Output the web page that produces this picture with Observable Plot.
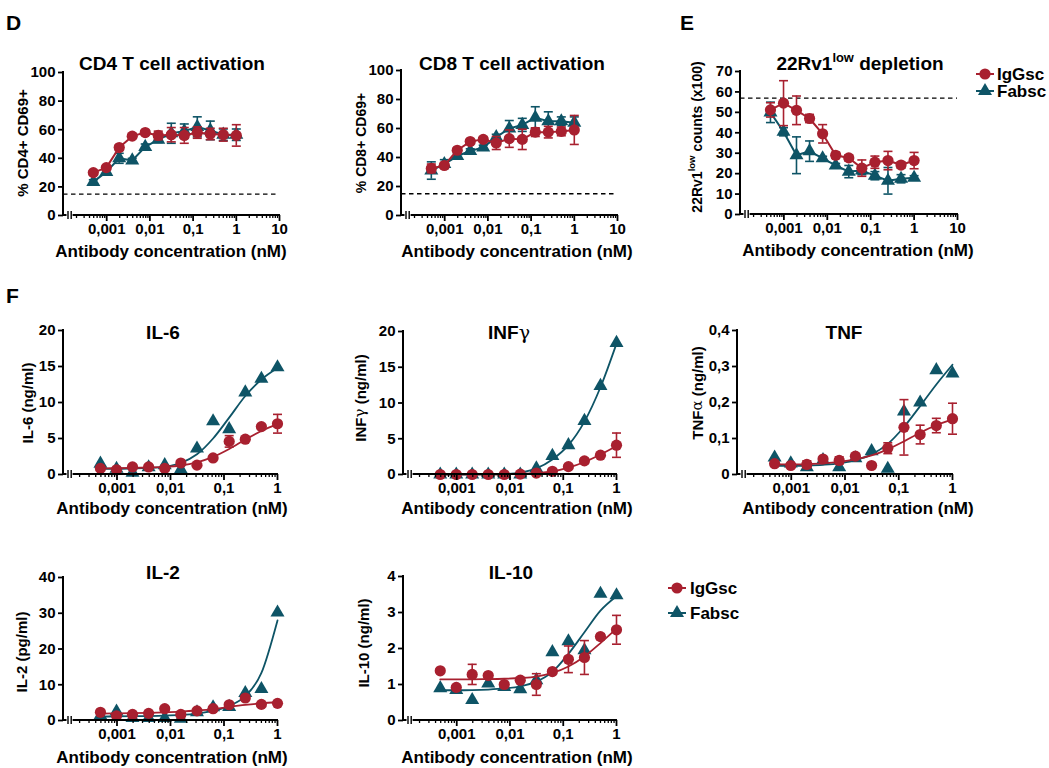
<!DOCTYPE html>
<html><head><meta charset="utf-8">
<script src="https://cdn.jsdelivr.net/npm/d3@7"></script>
<script src="https://cdn.jsdelivr.net/npm/@observablehq/plot@0.6"></script>
<style>
body{margin:0;background:#fff;}
#fig{position:relative;width:1049px;height:768px;overflow:hidden;background:#fff;}
#fig > div{position:absolute;}
</style></head><body><div id="fig"></div>
<script>
// ---------- data ----------
const conc = [0.00049, 0.00098, 0.00195, 0.0039, 0.0078, 0.0156, 0.03125, 0.0625, 0.125, 0.25, 0.5, 1];
const seriesNames = ["IgGsc", "Fabsc"];

const xMajorTop = [0.001, 0.01, 0.1, 1, 10];
const xMajorTopLabels = ["0,001", "0,01", "0,1", "1", "10"];
const xMajorF = [0.001, 0.01, 0.1, 1];
const xMajorFLabels = ["0,001", "0,01", "0,1", "1"];

// D: CD4
const cd4Igg    = [30, 33.5, 47.5, 55.5, 58, 56, 56.5, 56, 58, 57, 56.5, 56];
const cd4IggErr = [1.5, 1.5, 2, 1.5, 1.5, 3, 5, 5.5, 4, 4, 4.5, 7.5];
const cd4Fab    = [23.5, 30.5, 40, 38.5, 48, 53, 57.5, 59, 62, 59.5, 56.5, 56.5];
const cd4FabErr = [1.5, 2, 3.5, 1.5, 2, 2, 7, 5, 7, 6.5, 4, 4];
// D: CD8
const cd8Igg    = [32.5, 34.5, 45, 51, 52.5, 50, 53, 52.5, 57.5, 57.5, 58, 59];
const cd8IggErr = [3, 2, 1.5, 1.5, 1.5, 4.5, 6, 7, 3, 4, 3, 10];
const cd8Fab    = [31, 35.5, 41, 44.5, 47, 54, 60, 62.5, 67.5, 65, 65, 64];
const cd8FabErr = [6, 3, 2, 1.5, 1.5, 2, 5.5, 4.5, 7.5, 6.5, 3, 4];
// E: 22Rv1 low depletion
const depIgg    = [51.2, 54.5, 51, 47, 39.5, 29, 27.7, 22.7, 25.6, 26.4, 24.2, 26.4];
const depIggErr = [3.5, 11, 7, 2, 4.5, 1.5, 1.5, 4, 3, 4.5, 1.5, 4];
const depFab    = [50, 40.5, 29, 31, 27.5, 24, 21, 21.5, 19, 16.5, 17.5, 18];
const depFabErr = [5, 2, 9, 5, 1, 1, 3, 2, 2, 6.5, 2, 1];
// F: IL-6
const il6Igg    = [0.85, 0.65, 1.05, 1.05, 0.85, 1.6, 1.3, 2.3, 4.6, 4.9, 6.65, 7.05];
const il6IggErr = [0, 0, 0, 0, 0, 0, 0, 0, 0.8, 0, 0.3, 1.3];
const il6Fab    = [1.5, 0.8, 0.25, 1.0, 1.3, 0.7, 3.6, 7.4, 6.3, 11.4, 13.3, 14.9];
const il6IggFit = [0.85, 0.88, 0.92, 0.97, 1.05, 1.25, 1.7, 2.45, 3.55, 4.85, 6.05, 7.0];
const il6FabFit = [0.8, 0.8, 0.85, 0.92, 1.1, 1.6, 2.8, 5.0, 7.9, 10.9, 13.2, 14.8];
// F: INF gamma
const ifnIgg    = [0, 0, 0, 0, 0, 0.05, 0.2, 0.45, 1.1, 1.9, 2.7, 4.1];
const ifnIggErr = [0, 0, 0, 0, 0, 0, 0, 0, 0, 0.35, 0, 1.7];
const ifnFab    = [0, 0, 0, 0, 0, 0, 0.85, 2.6, 4.1, 7.5, 12.4, 18.4];
const ifnIggFit = [0.02, 0.02, 0.02, 0.03, 0.04, 0.08, 0.18, 0.42, 0.95, 1.75, 2.8, 4.0];
const ifnFabFit = [0, 0, 0, 0.01, 0.05, 0.25, 0.85, 2.1, 4.1, 7.4, 12.2, 18.3];
// F: TNF
const tnfIgg    = [0.03, 0.025, 0.028, 0.043, 0.039, 0.051, 0.025, 0.073, 0.131, 0.111, 0.136, 0.155];
const tnfIggErr = [0, 0, 0.01, 0, 0.01, 0.005, 0, 0.015, 0.077, 0.026, 0.02, 0.043];
const tnfFab    = [0.047, 0.031, 0.02, 0.04, 0.02, 0.045, 0.065, 0.016, 0.175, 0.2, 0.29, 0.281];
const tnfIggFit = [0.028, 0.028, 0.029, 0.031, 0.035, 0.042, 0.053, 0.07, 0.092, 0.116, 0.137, 0.153];
const tnfFabFit = [0.024, 0.024, 0.025, 0.027, 0.031, 0.04, 0.056, 0.085, 0.132, 0.19, 0.25, 0.305];
// IL-2
const il2Igg    = [2.3, 1.3, 1.7, 2.0, 3.3, 1.7, 2.7, 3.3, 4.4, 6.3, 4.5, 4.8];
const il2Fab    = [1.4, 2.5, 0.7, 0.7, 0.7, 0.5, 2.3, 3.7, 3.8, 7.7, 8.8, 30.2];
const il2IggFit = [1.9, 2.0, 2.05, 2.15, 2.3, 2.5, 2.8, 3.2, 3.8, 4.35, 4.8, 5.1];
const il2FabFit = [1.1, 1.15, 1.2, 1.25, 1.35, 1.55, 1.95, 2.7, 4.1, 6.8, 13.3, 28];
// IL-10
const il10Igg    = [1.38, 0.92, 1.28, 1.25, 1.0, 1.12, 1.0, 1.36, 1.7, 1.75, 2.33, 2.52];
const il10IggErr = [0, 0, 0.28, 0, 0, 0, 0.3, 0, 0.37, 0.47, 0.08, 0.4];
const il10Fab    = [0.9, 0.85, 0.57, 1.03, 0.93, 0.87, 1.12, 1.9, 2.2, 1.95, 3.52, 3.48];
const il10IggFit = [1.14, 1.14, 1.145, 1.15, 1.16, 1.18, 1.22, 1.32, 1.5, 1.78, 2.15, 2.55];
const il10FabFit = [0.84, 0.84, 0.845, 0.86, 0.89, 0.95, 1.08, 1.35, 1.85, 2.45, 3.05, 3.45];

// ---------- style ----------
const FONT = '"Liberation Sans", Arial, Helvetica, sans-serif';
const RED = "#a8202f", TEAL = "#0e5466";
const capSymbol = {draw(ctx, size) { const r = Math.sqrt(size / Math.PI); ctx.moveTo(-r, 0); ctx.lineTo(r, 0); }};
function minorTicks(maxExp) {
  const t = [];
  for (let e = -4; e < maxExp; e++) for (let k = 2; k <= 9; k++) t.push(+(k * Math.pow(10, e)).toPrecision(3));
  return t;
}
const fig = document.getElementById("fig");

function makePanel(cfg) {
  const mL = 70, mR = 14, mT = 14, mB = 34;
  const w = cfg.right - cfg.left, h = cfg.bottom - cfg.top;
  const top = cfg.xMax === 10;
  const xMaj = top ? xMajorTop : xMajorF;
  const xMajL = top ? xMajorTopLabels : xMajorFLabels;
  const marks = [];
  if (cfg.dashed != null) marks.push(Plot.ruleY([cfg.dashed], {stroke: "#000", strokeWidth: 1.3, strokeDasharray: "4.5,3.5"}));
  for (const s of cfg.series) {
    const rows = conc.map((c, i) => ({c, v: s.v[i], e: s.e ? s.e[i] : 0}));
    if (s.fit) marks.push(Plot.line(conc.map((c, i) => ({c, v: s.fit[i]})), {x: "c", y: "v", stroke: s.color, strokeWidth: 1.8, curve: "monotone-x"}));
    else marks.push(Plot.line(rows, {x: "c", y: "v", stroke: s.color, strokeWidth: 2}));
    const er = rows.filter(d => d.e > 0);
    marks.push(Plot.ruleX(er, {x: "c", y1: d => d.v - d.e, y2: d => d.v + d.e, stroke: s.color, strokeWidth: 1.6}));
    marks.push(Plot.dot(er, {x: "c", y: d => d.v + d.e, symbol: capSymbol, r: 4.5, stroke: s.color, strokeWidth: 1.6, fill: "none"}));
    marks.push(Plot.dot(er, {x: "c", y: d => d.v - d.e, symbol: capSymbol, r: 4.5, stroke: s.color, strokeWidth: 1.6, fill: "none"}));
    marks.push(Plot.dot(rows, {x: "c", y: "v", symbol: s.symbol, r: s.r, fill: s.color, stroke: "none"}));
  }
  marks.push(Plot.axisY({ticks: cfg.yTicks, tickFormat: d => cfg.yLabels[cfg.yTicks.indexOf(d)], tickSize: 5, tickPadding: 3, label: null, strokeWidth: 1.8}));
  marks.push(Plot.axisX({ticks: xMaj, tickFormat: d => xMajL[xMaj.indexOf(d)], tickSize: 6, tickPadding: 2, label: null, strokeWidth: 1.8}));
  marks.push(Plot.axisX({ticks: minorTicks(top ? 1 : 0), tickSize: 3, fill: "none", label: null, strokeWidth: 1.3}));
  const svg = Plot.plot({
    width: w + mL + mR, height: h + mT + mB,
    marginLeft: mL, marginRight: mR, marginTop: mT, marginBottom: mB,
    x: {type: "log", domain: [1e-4, cfg.xMax]},
    y: {domain: [0, cfg.yMax]},
    style: {background: "transparent", overflow: "visible", fontSize: "15px", fontWeight: "bold", fontFamily: FONT, color: "#000"},
    marks
  });
  const g = d3.select(svg).append("g").attr("stroke", "#000").attr("fill", "none");
  const y0 = mT + h;
  g.append("line").attr("x1", mL).attr("x2", mL).attr("y1", mT - 1).attr("y2", y0 + 1).attr("stroke-width", 2);
  g.append("line").attr("x1", mL).attr("x2", mL + 3.5).attr("y1", y0).attr("y2", y0).attr("stroke-width", 2);
  [mL + 5, mL + 8.2].forEach(x => g.append("line").attr("x1", x).attr("x2", x).attr("y1", y0 - 4).attr("y2", y0 + 4).attr("stroke-width", 1.4));
  g.append("line").attr("x1", mL + 9.6).attr("x2", mL + w + 1).attr("y1", y0).attr("y2", y0).attr("stroke-width", 2);
  const div = document.createElement("div");
  div.style.left = (cfg.left - mL) + "px";
  div.style.top = (cfg.top - mT) + "px";
  div.appendChild(svg);
  fig.appendChild(div);
}

const S = (v, e, color, symbol, fit) => ({v, e, color, symbol, r: symbol === "circle" ? 5.6 : 5.2, fit});
const pct = [0, 20, 40, 60, 80, 100];
const pctL = ["0", "20", "40", "60", "80", "100"];

makePanel({left: 63, right: 279, top: 72, bottom: 215, xMax: 10, yMax: 100, yTicks: pct, yLabels: pctL, dashed: 15,
  series: [S(cd4Fab, cd4FabErr, TEAL, "triangle"), S(cd4Igg, cd4IggErr, RED, "circle")]});
makePanel({left: 401, right: 617, top: 70, bottom: 215, xMax: 10, yMax: 100, yTicks: pct, yLabels: pctL, dashed: 15,
  series: [S(cd8Fab, cd8FabErr, TEAL, "triangle"), S(cd8Igg, cd8IggErr, RED, "circle")]});
makePanel({left: 740, right: 957, top: 71, bottom: 214, xMax: 10, yMax: 70,
  yTicks: [0, 10, 20, 30, 40, 50, 60, 70], yLabels: ["0", "10", "20", "30", "40", "50", "60", "70"], dashed: 57,
  series: [S(depFab, depFabErr, TEAL, "triangle"), S(depIgg, depIggErr, RED, "circle")]});
makePanel({left: 63, right: 277, top: 330, bottom: 474, xMax: 1, yMax: 20,
  yTicks: [0, 5, 10, 15, 20], yLabels: ["0", "5", "10", "15", "20"],
  series: [S(il6Fab, null, TEAL, "triangle", il6FabFit), S(il6Igg, il6IggErr, RED, "circle", il6IggFit)]});
makePanel({left: 403, right: 616, top: 331, bottom: 474, xMax: 1, yMax: 20,
  yTicks: [0, 5, 10, 15, 20], yLabels: ["0", "5", "10", "15", "20"],
  series: [S(ifnFab, null, TEAL, "triangle", ifnFabFit), S(ifnIgg, ifnIggErr, RED, "circle", ifnIggFit)]});
makePanel({left: 737, right: 952, top: 330, bottom: 474, xMax: 1, yMax: 0.4,
  yTicks: [0, 0.1, 0.2, 0.3, 0.4], yLabels: ["0", "0,1", "0,2", "0,3", "0,4"],
  series: [S(tnfFab, null, TEAL, "triangle", tnfFabFit), S(tnfIgg, tnfIggErr, RED, "circle", tnfIggFit)]});
makePanel({left: 63, right: 277, top: 577, bottom: 720, xMax: 1, yMax: 40,
  yTicks: [0, 10, 20, 30, 40], yLabels: ["0", "10", "20", "30", "40"],
  series: [S(il2Fab, null, TEAL, "triangle", il2FabFit), S(il2Igg, null, RED, "circle", il2IggFit)]});
makePanel({left: 403, right: 616, top: 576, bottom: 720, xMax: 1, yMax: 4,
  yTicks: [0, 1, 2, 3, 4], yLabels: ["0", "1", "2", "3", "4"],
  series: [S(il10Fab, null, TEAL, "triangle", il10FabFit), S(il10Igg, il10IggErr, RED, "circle", il10IggFit)]});

// ---------- overlay text ----------
const ov = d3.create("svg").attr("width", 1049).attr("height", 768)
  .style("position", "absolute").style("left", "0px").style("top", "0px").style("pointer-events", "none")
  .attr("font-family", FONT).attr("font-weight", "bold").attr("fill", "#000");
function txt(x, y, parts, {size = 17, anchor = "middle", rotate = false, baseline = "auto"} = {}) {
  const t = ov.append("text").attr("font-size", size).attr("text-anchor", anchor).attr("dominant-baseline", baseline);
  if (rotate) t.attr("transform", `translate(${x},${y}) rotate(-90)`); else t.attr("x", x).attr("y", y);
  if (typeof parts === "string") parts = [{t: parts}];
  let shift = 0;
  for (const p of parts) {
    const sp = t.append("tspan").text(p.t);
    if (p.sup) { sp.attr("font-size", size * 0.68).attr("dy", -size * 0.4); shift = size * 0.4; }
    else if (shift) { sp.attr("dy", shift); shift = 0; }
    if (p.greek) sp.attr("font-weight", "normal").attr("font-family", '"DejaVu Serif", serif');
  }
  return t;
}
// panel letters
txt(6, 30, "D", {size: 21, anchor: "start"});
txt(680, 30, "E", {size: 21, anchor: "start"});
txt(6, 303, "F", {size: 21, anchor: "start"});
// titles
txt(172, 70, "CD4 T cell activation", {size: 19});
txt(512, 70, "CD8 T cell activation", {size: 19});
txt(860, 70, [{t: "22Rv1"}, {t: "low", sup: true}, {t: " depletion"}], {size: 19});
txt(163, 339, "IL-6", {size: 19});
txt(509, 339, [{t: "INF"}, {t: "γ", greek: true}], {size: 19});
txt(844, 339, "TNF", {size: 19});
txt(163, 579, "IL-2", {size: 19});
txt(511, 579, "IL-10", {size: 19});
// x labels
const xl = "Antibody concentration (nM)";
[[171, 257], [517, 257], [858, 256], [172, 514], [517, 514], [858, 514], [172, 763], [517, 763]]
  .forEach(([x, y]) => txt(x, y, xl, {size: 17}));
// y labels
txt(22, 143, "% CD4+ CD69+", {size: 15, rotate: true, baseline: "central"});
txt(361, 143, "% CD8+ CD69+", {size: 14, rotate: true, baseline: "central"});
txt(697, 137, [{t: "22Rv1"}, {t: "low", sup: true}, {t: " counts (x100)"}], {size: 14, rotate: true, baseline: "central"});
txt(27, 403, "IL-6 (ng/ml)", {size: 15, rotate: true, baseline: "central"});
txt(360, 398, [{t: "INF"}, {t: "γ", greek: true}, {t: " (ng/ml)"}], {size: 15, rotate: true, baseline: "central"});
txt(697, 393, [{t: "TNF"}, {t: "α", greek: true}, {t: " (ng/ml)"}], {size: 15, rotate: true, baseline: "central"});
txt(21, 652, "IL-2 (pg/ml)", {size: 15, rotate: true, baseline: "central"});
txt(363, 643, "IL-10 (ng/ml)", {size: 15, rotate: true, baseline: "central"});
// legends
function legend(cx, cy1, cy2, tx) {
  [[cy1, RED, d3.symbolCircle, 5.6, seriesNames[0]], [cy2, TEAL, d3.symbolTriangle, 5.2, seriesNames[1]]].forEach(([cy, col, sym, r, name]) => {
    ov.append("line").attr("x1", cx - 9).attr("x2", cx + 9).attr("y1", cy).attr("y2", cy).attr("stroke", col).attr("stroke-width", 2);
    ov.append("path").attr("d", d3.symbol(sym, Math.PI * r * r)()).attr("transform", `translate(${cx},${cy})`).attr("fill", col);
    txt(tx, cy, name, {size: 17, anchor: "start", baseline: "central"});
  });
}
legend(985, 74, 91, 997);
legend(677, 588, 613, 690);
fig.appendChild(ov.node());
</script></body></html>
